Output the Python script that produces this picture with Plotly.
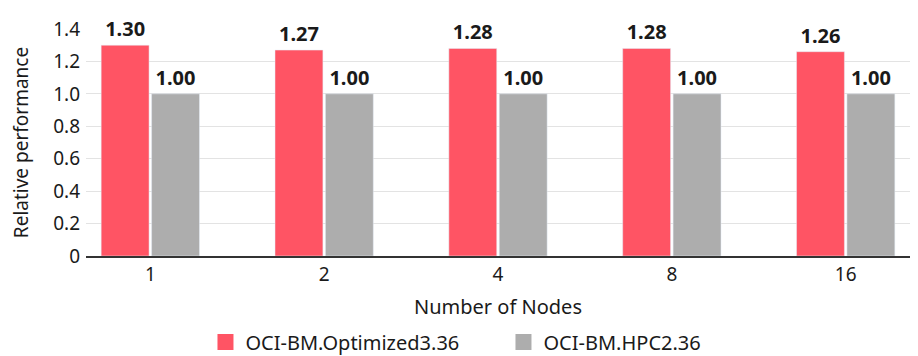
import plotly.graph_objects as go

categories = ["1", "2", "4", "8", "16"]
optimized = [1.30, 1.27, 1.28, 1.28, 1.26]
hpc2 = [1.00, 1.00, 1.00, 1.00, 1.00]
series_names = ["OCI-BM.Optimized3.36", "OCI-BM.HPC2.36"]
series_colors = ["#FF5464", "#ADADAD"]
y_ticks = [0, 0.2, 0.4, 0.6, 0.8, 1.0, 1.2, 1.4]
y_tick_labels = ["0", "0.2", "0.4", "0.6", "0.8", "1.0", "1.2", "1.4"]

FONT = "Noto Sans"
TXT = "#1a1a1a"

fig = go.Figure()
for name, vals, col in zip(series_names, [optimized, hpc2], series_colors):
    fig.add_trace(go.Bar(
        x=categories, y=vals, name=name,
        marker_color=col, showlegend=False,
        text=[f"{v:.2f}" for v in vals], textposition="outside",
        textfont=dict(family=FONT, size=20, color=TXT, weight="bold"),
        cliponaxis=False,
    ))
# legend entries with larger square swatches
for name, col in zip(series_names, series_colors):
    fig.add_trace(go.Scatter(
        x=[None], y=[None], mode="markers", name=name,
        marker=dict(symbol="square", size=16, color=col),
        showlegend=True, hoverinfo="skip",
    ))

fig.update_layout(
    width=918, height=356,
    margin=dict(l=78, r=16, t=21, b=108, autoexpand=False),
    paper_bgcolor="white", plot_bgcolor="white",
    barmode="group", bargap=0.42, bargroupgap=0.05,
    font=dict(family=FONT, size=19, color=TXT),
    showlegend=True,
    legend=dict(orientation="h", x=0.145, xanchor="left",
                y=-0.293, yanchor="top",
                font=dict(family=FONT, size=20, color=TXT),
                traceorder="normal", itemwidth=30,
                entrywidth=253, entrywidthmode="pixels"),
    xaxis=dict(type="category", range=[-0.37, 4.37],
               title=dict(text="Number of Nodes", font=dict(size=20), standoff=14),
               tickfont=dict(size=19), showline=True, linecolor="#333333", linewidth=2,
               ticks="", showgrid=False, automargin=False),
    yaxis=dict(range=[0, 1.4], tickvals=y_ticks, ticktext=y_tick_labels,
               title=dict(text="Relative performance", font=dict(size=19), standoff=22),
               tickfont=dict(size=19), showgrid=True, gridcolor="#e3e3e3", gridwidth=1,
               zeroline=False, ticks="", showline=False, automargin=False,
               ticklabelstandoff=5),
)

fig.write_html("out.html")
